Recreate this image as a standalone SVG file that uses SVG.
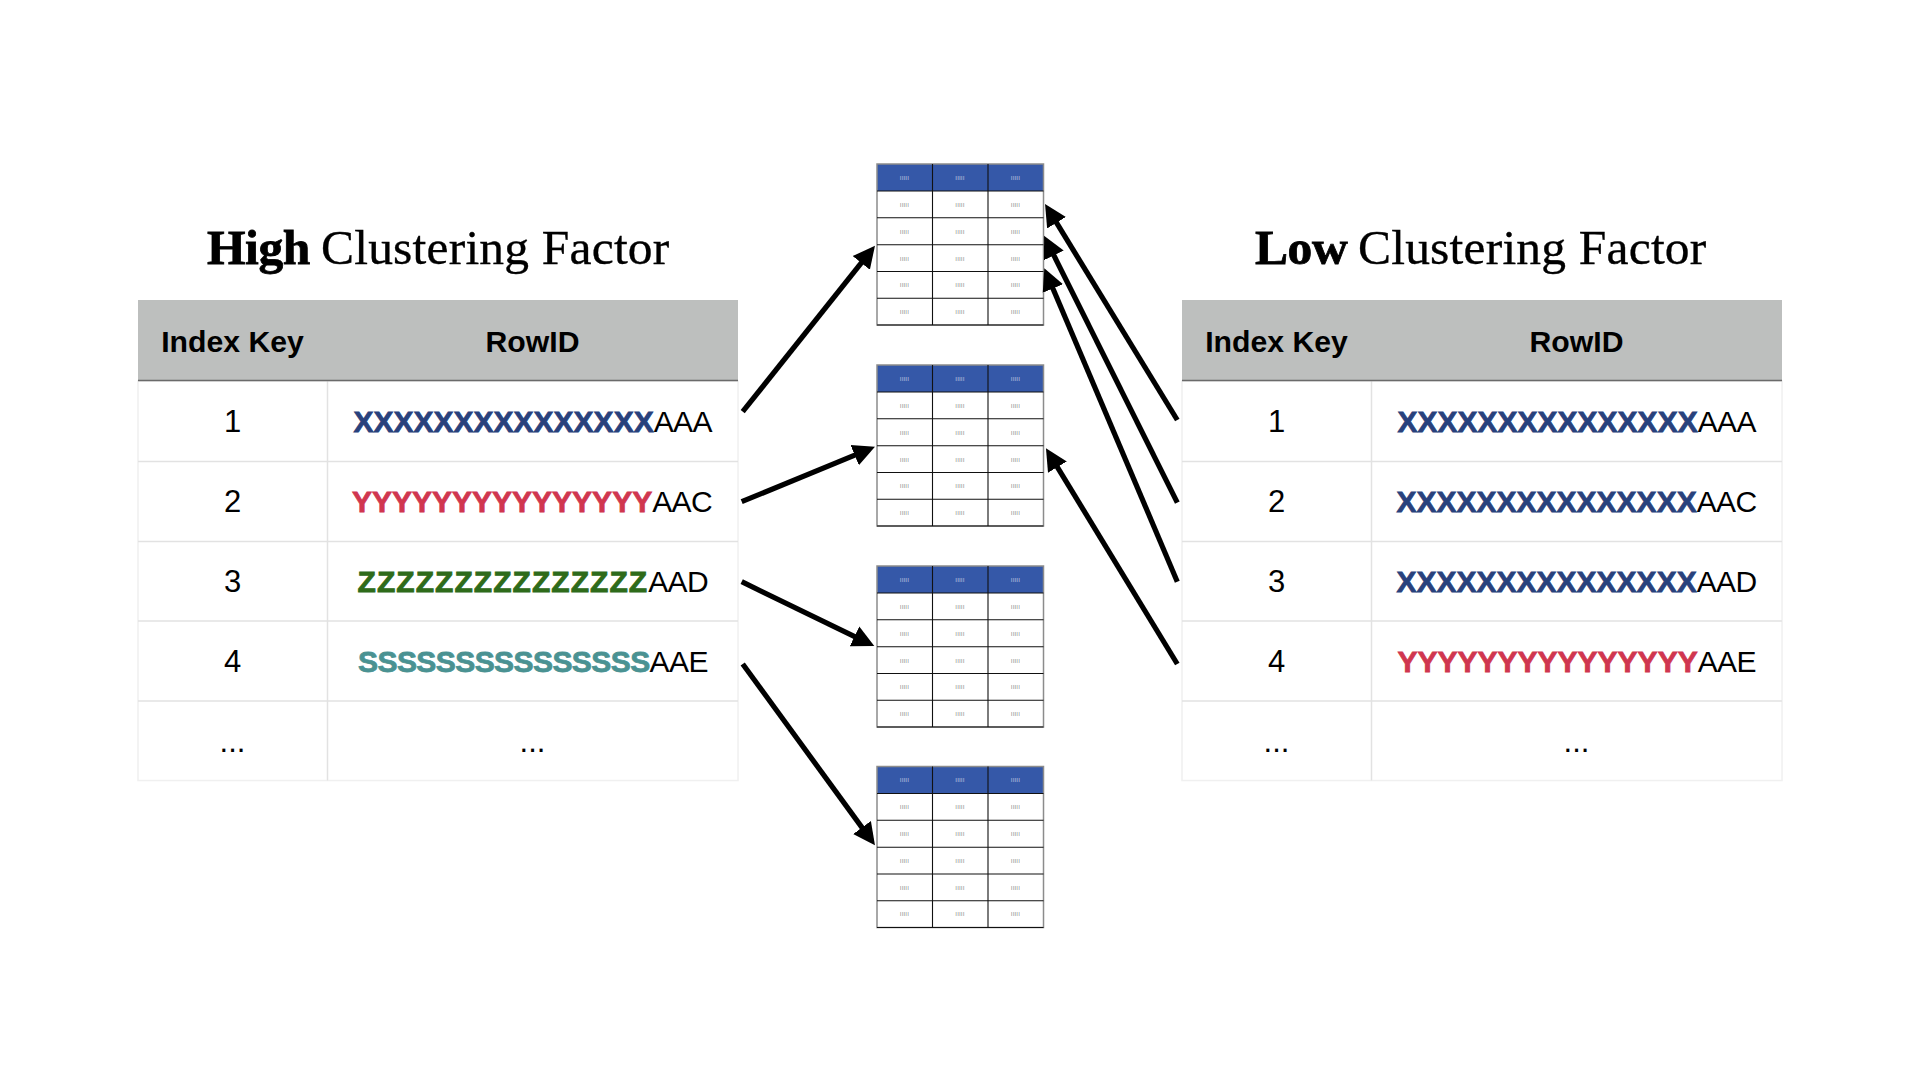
<svg xmlns="http://www.w3.org/2000/svg" width="1920" height="1080" viewBox="0 0 1920 1080">
<style>
text{font-family:"Liberation Sans",Arial,sans-serif;fill:#000}
.title{font-family:"Liberation Serif","Times New Roman",serif;font-size:49.5px;stroke:#000;stroke-width:.35px}
.title .b{font-weight:700;letter-spacing:-.4px;stroke-width:.8px}
.title .n{letter-spacing:.2px}
.h{font-size:30.2px;font-weight:700;text-anchor:middle}
.c{font-size:31px;text-anchor:middle}
.r{font-size:30px}
.s{letter-spacing:-.6px}
.x{font-weight:700;fill:#28417C;stroke:#28417C;stroke-width:.8px}
.y{font-weight:700;fill:#D0364F;stroke:#D0364F;stroke-width:.8px}
.z{font-weight:700;fill:#2E6B1A;stroke:#2E6B1A;stroke-width:.8px;letter-spacing:1.05px}
.t{font-weight:700;fill:#4A9292;stroke:#4A9292;stroke-width:.8px;letter-spacing:-.57px}
.hdr{fill:#BDBFBE}
.grid{stroke:#E2E2E2;stroke-width:1.5;fill:none}
.edge{stroke:#F0F0F0;stroke-width:1.5;fill:none}
.hline{stroke:#6A6A6A;stroke-width:1.5}
.arrow{stroke:#000;stroke-width:5.2;fill:none;marker-end:url(#head)}
.mh{fill:#3558A8}
.mo{fill:none;stroke:#8C8C8C;stroke-width:1.5}
.ml{stroke:#111;stroke-width:1.1;fill:none}
.mt{font-size:4.5px;letter-spacing:.6px;text-anchor:middle;fill:#555}
.mw{font-size:4.5px;letter-spacing:.6px;text-anchor:middle;fill:#E4E9F5}
</style>
<defs>
<marker id="head" markerUnits="userSpaceOnUse" markerWidth="24" markerHeight="23" refX="10" refY="11.5" orient="auto">
<path d="M0,0.5 L22,11.5 L0,22.5 Z" fill="#000"/>
</marker>
<g id="mini">
<rect class="mh" x="0" y="0" width="166.5" height="27"/>
<rect class="mo" x="0" y="0" width="166.5" height="161"/>
<path class="ml" d="M0,27H166.5M0,53.8H166.5M0,80.7H166.5M0,107.5H166.5M0,134.3H166.5M0,161H166.5M55.5,0V161M111,0V161"/>
<text class="mw" x="27.7" y="15.5">IIIII</text><text class="mw" x="83.2" y="15.5">IIIII</text><text class="mw" x="138.7" y="15.5">IIIII</text>
<text class="mt" x="27.7" y="42.5">IIIII</text><text class="mt" x="83.2" y="42.5">IIIII</text><text class="mt" x="138.7" y="42.5">IIIII</text>
<text class="mt" x="27.7" y="69.5">IIIII</text><text class="mt" x="83.2" y="69.5">IIIII</text><text class="mt" x="138.7" y="69.5">IIIII</text>
<text class="mt" x="27.7" y="96.5">IIIII</text><text class="mt" x="83.2" y="96.5">IIIII</text><text class="mt" x="138.7" y="96.5">IIIII</text>
<text class="mt" x="27.7" y="123">IIIII</text><text class="mt" x="83.2" y="123">IIIII</text><text class="mt" x="138.7" y="123">IIIII</text>
<text class="mt" x="27.7" y="149.5">IIIII</text><text class="mt" x="83.2" y="149.5">IIIII</text><text class="mt" x="138.7" y="149.5">IIIII</text>
</g>
<g id="grid">
<rect class="hdr" x="0" y="0" width="600" height="80.5"/>
<rect class="edge" x="0" y="81" width="600" height="399.5"/>
<path class="grid" d="M0,161.5H600M0,241.5H600M0,321H600M0,401H600M189.5,81V480.5"/>
<line class="hline" x1="0" y1="80.5" x2="600" y2="80.5"/>
</g>
</defs>
<rect width="1920" height="1080" fill="#fff"/>

<g id="high-table">
<text class="title" x="207" y="264"><tspan class="b">High</tspan> <tspan class="n" x="321">Clustering Factor</tspan></text>
<use href="#grid" x="138" y="300"/>
<text class="h" x="232.5" y="351.6">Index Key</text>
<text class="h" x="532.5" y="351.6">RowID</text>
<text class="c" x="232.5" y="431.7">1</text>
<text class="r" x="353.5" y="431.7"><tspan class="x">XXXXXXXXXXXXXXX</tspan><tspan class="s">AAA</tspan></text>
<text class="c" x="232.5" y="511.7">2</text>
<text class="r" x="352" y="511.7"><tspan class="y">YYYYYYYYYYYYYYY</tspan><tspan class="s">AAC</tspan></text>
<text class="c" x="232.5" y="591.7">3</text>
<text class="r" x="357.5" y="591.7"><tspan class="z">ZZZZZZZZZZZZZZZ</tspan><tspan class="s">AAD</tspan></text>
<text class="c" x="232.5" y="671.7">4</text>
<text class="r" x="358" y="671.7"><tspan class="t">SSSSSSSSSSSSSSS</tspan><tspan class="s">AAE</tspan></text>
<text class="c" x="232.5" y="751.7">...</text>
<text class="c" x="532.5" y="751.7">...</text>
</g>

<g id="low-table">
<text class="title" x="1255" y="264"><tspan class="b">Low</tspan> <tspan class="n" x="1358">Clustering Factor</tspan></text>
<use href="#grid" x="1182" y="300"/>
<text class="h" x="1276.5" y="351.6">Index Key</text>
<text class="h" x="1576.5" y="351.6">RowID</text>
<text class="c" x="1276.5" y="431.7">1</text>
<text class="r" x="1397.5" y="431.7"><tspan class="x">XXXXXXXXXXXXXXX</tspan><tspan class="s">AAA</tspan></text>
<text class="c" x="1276.5" y="511.7">2</text>
<text class="r" x="1396.5" y="511.7"><tspan class="x">XXXXXXXXXXXXXXX</tspan><tspan class="s">AAC</tspan></text>
<text class="c" x="1276.5" y="591.7">3</text>
<text class="r" x="1396.5" y="591.7"><tspan class="x">XXXXXXXXXXXXXXX</tspan><tspan class="s">AAD</tspan></text>
<text class="c" x="1276.5" y="671.7">4</text>
<text class="r" x="1397.5" y="671.7"><tspan class="y">YYYYYYYYYYYYYYY</tspan><tspan class="s">AAE</tspan></text>
<text class="c" x="1276.5" y="751.7">...</text>
<text class="c" x="1576.5" y="751.7">...</text>
</g>

<g id="block-1"><use href="#mini" x="877" y="164"/></g>
<g id="block-2"><use href="#mini" x="877" y="365"/></g>
<g id="block-3"><use href="#mini" x="877" y="566"/></g>
<g id="block-4"><use href="#mini" x="877" y="766.5"/></g>

<g id="connectors">
<line class="arrow" x1="742.7" y1="411.7" x2="867.5" y2="255.1"/>
<line class="arrow" x1="741.7" y1="501.7" x2="863.9" y2="451.3"/>
<line class="arrow" x1="741.7" y1="581.7" x2="863.5" y2="640.8"/>
<line class="arrow" x1="742.7" y1="664" x2="867.9" y2="835.6"/>
<line class="arrow" x1="1177.3" y1="420" x2="1051.3" y2="214.2"/>
<line class="arrow" x1="1177.3" y1="502.7" x2="1049.4" y2="246.4"/>
<line class="arrow" x1="1177.3" y1="581.7" x2="1049" y2="279.3"/>
<line class="arrow" x1="1177.3" y1="664" x2="1052.2" y2="458.6"/>
</g>
</svg>
